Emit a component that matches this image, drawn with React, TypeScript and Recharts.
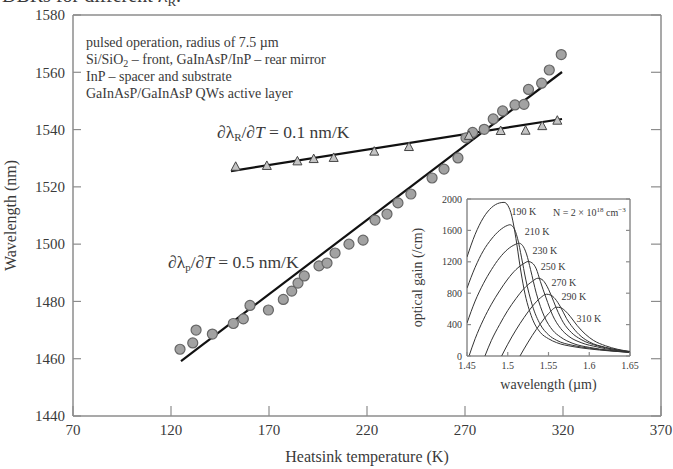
import React from "react";
import { ComposedChart, LineChart, Line, Scatter, XAxis, YAxis } from "recharts";

// main plot: heatsink temperature (K) vs wavelength (nm)
const tempTicks = [70, 120, 170, 220, 270, 320, 370];
const waveTicks = [1440, 1460, 1480, 1500, 1520, 1540, 1560, 1580];

// gain peak (circles)
const peakTemps = [124.6, 131.1, 132.8, 141.1, 151.8, 156.9, 160.3, 169.7, 177.3, 181.6, 184.8, 188, 195.5, 199.6, 203.7, 210.8, 218, 224.1, 230.2, 235.8, 242.4, 253.2, 259.3, 266.4, 270.5, 273.9, 279.8, 284.4, 289.2, 295.5, 300.1, 302.4, 309.1, 313, 319.1];
const peakWaves = [1463.3, 1465.5, 1470, 1468.6, 1472.3, 1473.9, 1478.6, 1477, 1480.7, 1483.6, 1486.4, 1488.9, 1492.4, 1493.4, 1496.9, 1500, 1501.4, 1508.4, 1510.5, 1514.4, 1517.5, 1523.1, 1526.2, 1530.1, 1537.1, 1539, 1540.1, 1543.7, 1546.5, 1548.6, 1548.8, 1554, 1556.2, 1560.8, 1566.2];

// resonance (triangles)
const resTemps = [153, 168.9, 184.5, 192.8, 203, 223.7, 241.4, 272, 288.2, 300.9, 309.4, 317.1];
const resWaves = [1527, 1527.3, 1528.9, 1529.7, 1530.1, 1532.3, 1533.9, 1537.8, 1539.5, 1539.6, 1541.2, 1543.1];

// fitted lines
const fitPeakTemps = [125.1, 319.5];
const fitPeakWaves = [1459.2, 1560.1];
const fitResTemps = [150.6, 319.5];
const fitResWaves = [1525.5, 1543.7];

// inset: optical gain spectra
const gainXTicks = [1.45, 1.5, 1.55, 1.6, 1.65];
const gainYTicks = [0, 400, 800, 1200, 1600, 2000];
const gainTemps = ["190 K", "210 K", "230 K", "250 K", "270 K", "290 K", "310 K"];
const gainLambda = [
  [1.45, 1.46, 1.47, 1.48, 1.49, 1.4955, 1.5, 1.505, 1.51, 1.515, 1.52, 1.53, 1.54, 1.55, 1.56, 1.58, 1.6, 1.625, 1.65],
  [1.45, 1.46, 1.47, 1.48, 1.49, 1.5, 1.5025, 1.507, 1.512, 1.517, 1.522, 1.53, 1.54, 1.55, 1.56, 1.58, 1.6, 1.625, 1.65],
  [1.45, 1.46, 1.47, 1.48, 1.49, 1.5, 1.51, 1.5135, 1.518, 1.523, 1.528, 1.535, 1.545, 1.555, 1.565, 1.58, 1.6, 1.625, 1.65],
  [1.4525, 1.46, 1.47, 1.48, 1.49, 1.5, 1.51, 1.52, 1.525, 1.53, 1.535, 1.54, 1.547, 1.555, 1.565, 1.575, 1.59, 1.61, 1.63, 1.65],
  [1.472, 1.48, 1.49, 1.5, 1.51, 1.52, 1.53, 1.537, 1.542, 1.547, 1.553, 1.56, 1.568, 1.578, 1.59, 1.61, 1.63, 1.65],
  [1.4925, 1.5, 1.51, 1.52, 1.53, 1.54, 1.5475, 1.553, 1.558, 1.565, 1.572, 1.58, 1.59, 1.6, 1.62, 1.65],
  [1.515, 1.52, 1.53, 1.54, 1.55, 1.56, 1.565, 1.57, 1.577, 1.585, 1.595, 1.605, 1.62, 1.635, 1.65],
];
const gainValues = [
  [1260, 1550, 1760, 1890, 1950, 1957, 1920, 1780, 1500, 1150, 850, 480, 300, 220, 170, 120, 90, 65, 45],
  [864, 1130, 1340, 1490, 1600, 1665, 1672, 1640, 1500, 1250, 980, 650, 400, 270, 200, 135, 100, 68, 47],
  [420, 700, 920, 1100, 1250, 1360, 1425, 1438, 1410, 1300, 1100, 800, 500, 330, 240, 160, 110, 72, 48],
  [0, 220, 460, 660, 830, 980, 1100, 1180, 1204, 1185, 1110, 950, 740, 520, 350, 250, 170, 115, 75, 50],
  [0, 200, 400, 580, 730, 860, 950, 991, 975, 910, 780, 600, 430, 300, 210, 130, 85, 52],
  [0, 150, 330, 490, 630, 740, 787, 775, 730, 620, 480, 360, 250, 180, 110, 55],
  [0, 90, 260, 410, 540, 621, 615, 580, 500, 390, 280, 200, 130, 85, 58],
];
// where the temperature labels sit (wavelength, gain)
const gainLabelLambda = [1.5046, 1.5209, 1.5304, 1.5406, 1.5537, 1.566, 1.5845];
const gainLabelGain = [1828, 1578, 1340, 1132, 928, 744, 468];

const peakData = peakTemps.map((t, i) => ({ t, w: peakWaves[i] }));
const resData = resTemps.map((t, i) => ({ t, w: resWaves[i] }));
const fitPeak = fitPeakTemps.map((t, i) => ({ t, w: fitPeakWaves[i] }));
const fitRes = fitResTemps.map((t, i) => ({ t, w: fitResWaves[i] }));
const gainCurves = gainLambda.map((ls, k) => ls.map((l, i) => ({ l, g: gainValues[k][i] })));

const serif = "'Liberation Serif', 'Times New Roman', serif";
const frame = "#8c8c8c";
const ink = "#3a3a3a";

const Circle = (p: any) => (
  <circle cx={p.cx} cy={p.cy} r={5} fill="#a2a2a2" stroke="#666" strokeWidth={1.2} />
);
const Triangle = (p: any) => (
  <polygon
    points={`${p.cx},${p.cy - 5} ${p.cx - 4.5},${p.cy + 3.5} ${p.cx + 4.5},${p.cy + 3.5}`}
    fill="#c4c4c4"
    stroke="#444"
    strokeWidth={1}
  />
);

// tick helpers: tickSize/tickMargin are 0, so x/y is the axis line itself
const bottomTick = (len: number, fs: number, dy: number) => (p: any) => (
  <g>
    <line x1={p.x} x2={p.x} y1={p.y} y2={p.y - len} stroke={frame} strokeWidth={1.2} />
    <text x={p.x} y={p.y + dy} textAnchor="middle" fontFamily={serif} fontSize={fs} fill={ink}>
      {p.payload.value}
    </text>
  </g>
);
const topTick = (len: number) => (p: any) => (
  <line x1={p.x} x2={p.x} y1={p.y} y2={p.y + len} stroke={frame} strokeWidth={1.2} />
);
const leftTick = (len: number, fs: number, dx: number) => (p: any) => (
  <g>
    <line x1={p.x} x2={p.x + len} y1={p.y} y2={p.y} stroke={frame} strokeWidth={1.2} />
    <text x={p.x - dx} y={p.y} dy="0.35em" textAnchor="end" fontFamily={serif} fontSize={fs} fill={ink}>
      {p.payload.value}
    </text>
  </g>
);
const rightTick = (len: number) => (p: any) => (
  <line x1={p.x} x2={p.x - len} y1={p.y} y2={p.y} stroke={frame} strokeWidth={1.2} />
);

const note = (top: number, left: number, size: number): React.CSSProperties => ({
  position: "absolute",
  top,
  left,
  fontFamily: serif,
  fontSize: size,
  color: ink,
  lineHeight: 1,
  whiteSpace: "nowrap",
});

const Sub = ({ children, size }: { children: React.ReactNode; size: number }) => (
  <span style={{ fontSize: size, position: "relative", top: "0.3em", lineHeight: 0 }}>{children}</span>
);
const Sup = ({ children, size }: { children: React.ReactNode; size: number }) => (
  <span style={{ fontSize: size, position: "relative", top: "-0.6em", lineHeight: 0 }}>{children}</span>
);

export default function App() {
  return (
    <div style={{ position: "absolute", left: 0, top: 0, width: 673, height: 469, overflow: "hidden", background: "#fff" }}>
      <div style={note(-15, 2, 20)}>
        DBRs for different λ<Sub size={13}>R</Sub>.
      </div>
      <ComposedChart width={673} height={469} margin={{ top: 5, right: 0, bottom: 0, left: 0 }}>
        <XAxis
          xAxisId="b"
          dataKey="t"
          type="number"
          domain={[70, 370]}
          ticks={tempTicks}
          interval={0}
          allowDataOverflow
          height={53}
          tickSize={0}
          tickMargin={0}
          tickLine={false}
          axisLine={{ stroke: frame, strokeWidth: 1.5 }}
          tick={bottomTick(10, 15, 19)}
          label={{ value: "Heatsink temperature (K)", position: "insideBottom", offset: 7, style: { fontFamily: serif, fontSize: 16, fill: ink } }}
        />
        <XAxis
          xAxisId="top"
          orientation="top"
          type="number"
          domain={[70, 370]}
          ticks={tempTicks}
          interval={0}
          allowDataOverflow
          height={10}
          tickSize={0}
          tickMargin={0}
          tickLine={false}
          axisLine={{ stroke: frame, strokeWidth: 1.5 }}
          tick={topTick(10)}
        />
        <YAxis
          yAxisId="l"
          type="number"
          domain={[1440, 1580]}
          ticks={waveTicks}
          interval={0}
          allowDataOverflow
          width={73}
          tickSize={0}
          tickMargin={0}
          tickLine={false}
          axisLine={{ stroke: frame, strokeWidth: 1.5 }}
          tick={leftTick(8, 15, 8)}
          label={{ value: "Wavelength (nm)", angle: -90, position: "insideLeft", offset: 10, style: { textAnchor: "middle", fontFamily: serif, fontSize: 16, fill: ink } }}
        />
        <YAxis
          yAxisId="r"
          orientation="right"
          type="number"
          domain={[1440, 1580]}
          ticks={waveTicks}
          interval={0}
          allowDataOverflow
          width={12}
          tickSize={0}
          tickMargin={0}
          tickLine={false}
          axisLine={{ stroke: frame, strokeWidth: 1.5 }}
          tick={rightTick(10)}
        />
        <Line xAxisId="b" yAxisId="l" data={fitPeak} dataKey="w" stroke="#111" strokeWidth={2.2} dot={false} isAnimationActive={false} />
        <Line xAxisId="b" yAxisId="l" data={fitRes} dataKey="w" stroke="#111" strokeWidth={2.2} dot={false} isAnimationActive={false} />
        <Scatter xAxisId="b" yAxisId="l" data={peakData} dataKey="w" shape={Circle} isAnimationActive={false} />
        <Scatter xAxisId="b" yAxisId="l" data={resData} dataKey="w" shape={Triangle} isAnimationActive={false} />
      </ComposedChart>

      <div style={note(36, 86, 14)}>pulsed operation, radius of 7.5 µm</div>
      <div style={note(53, 86, 14)}>
        Si/SiO<Sub size={10}>2</Sub> – front, GaInAsP/InP – rear mirror
      </div>
      <div style={note(70, 86, 14)}>InP – spacer and substrate</div>
      <div style={note(87, 86, 14)}>GaInAsP/GaInAsP QWs active layer</div>
      <div style={note(124, 217, 17.5)}>
        ∂λ<Sub size={11}>R</Sub>/∂<i>T</i> = 0.1 nm/K
      </div>
      <div style={note(254, 168, 17.5)}>
        ∂λ<Sub size={11}>p</Sub>/∂<i>T</i> = 0.5 nm/K
      </div>

      <div style={{ position: "absolute", left: 405, top: 185 }}>
        <LineChart width={250} height={211} margin={{ top: 9, right: 20, bottom: 0, left: 0 }}>
          <XAxis
            xAxisId="b"
            dataKey="l"
            type="number"
            domain={[1.45, 1.65]}
            ticks={gainXTicks}
            interval={0}
            allowDataOverflow
            height={40}
            tickSize={0}
            tickMargin={0}
            tickLine={false}
            axisLine={{ stroke: "#555", strokeWidth: 1 }}
            tick={bottomTick(4, 10, 13)}
            label={{ value: "wavelength (µm)", position: "insideBottom", offset: 7, style: { fontFamily: serif, fontSize: 14, fill: ink } }}
          />
          <XAxis
            xAxisId="top"
            orientation="top"
            type="number"
            domain={[1.45, 1.65]}
            ticks={gainXTicks}
            interval={0}
            allowDataOverflow
            height={5}
            tickSize={0}
            tickMargin={0}
            tickLine={false}
            axisLine={{ stroke: "#555", strokeWidth: 1 }}
            tick={topTick(4)}
          />
          <YAxis
            yAxisId="l"
            type="number"
            domain={[0, 2000]}
            ticks={gainYTicks}
            interval={0}
            allowDataOverflow
            width={62}
            tickSize={0}
            tickMargin={0}
            tickLine={false}
            axisLine={{ stroke: "#555", strokeWidth: 1 }}
            tick={leftTick(4, 10, 5)}
            label={{ value: "optical gain (/cm)", angle: -90, position: "insideLeft", offset: 12, style: { textAnchor: "middle", fontFamily: serif, fontSize: 14, fill: ink } }}
          />
          <YAxis
            yAxisId="r"
            orientation="right"
            type="number"
            domain={[0, 2000]}
            ticks={gainYTicks}
            interval={0}
            allowDataOverflow
            width={5}
            tickSize={0}
            tickMargin={0}
            tickLine={false}
            axisLine={{ stroke: "#555", strokeWidth: 1 }}
            tick={rightTick(4)}
          />
          {gainCurves.map((c, k) => (
            <Line
              key={gainTemps[k]}
              xAxisId="b"
              yAxisId="l"
              data={c}
              dataKey="g"
              type="monotone"
              stroke="#333"
              strokeWidth={1}
              dot={false}
              isAnimationActive={false}
            />
          ))}
        </LineChart>
        {gainTemps.map((name, k) => (
          <div
            key={name}
            style={note(
              14 + (1 - gainLabelGain[k] / 2000) * 156.7 - 5,
              62 + ((gainLabelLambda[k] - 1.45) / 0.2) * 163,
              10
            )}
          >
            {name}
          </div>
        ))}
        <div style={note(23, 148, 10)}>
          N = 2 × 10<Sup size={7}>18</Sup> cm<Sup size={7}>−3</Sup>
        </div>
      </div>
    </div>
  );
}
